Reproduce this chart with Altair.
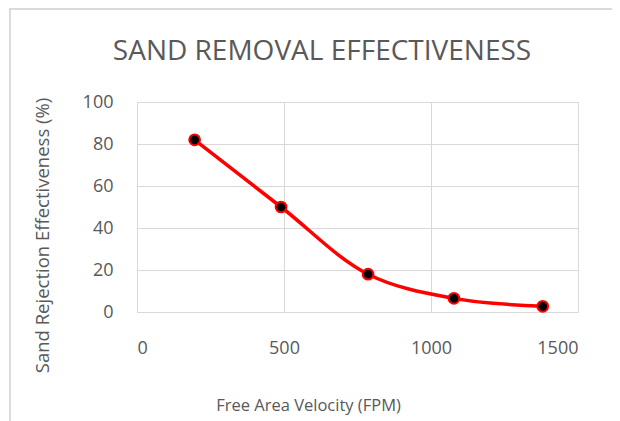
import altair as alt
import pandas as pd

velocity = [196, 490, 786, 1078, 1380]
effectiveness = [82, 50, 18, 6.5, 2.7]
x_ticks = [0, 500, 1000, 1500]
y_ticks = [0, 20, 40, 60, 80, 100]
chart_title = "SAND REMOVAL EFFECTIVENESS"

df = pd.DataFrame({"v": velocity, "e": effectiveness})
FONT = "Open Sans"
GRAY = "#595959"

x = alt.X("v:Q", scale=alt.Scale(domain=[0, 1500], nice=False),
          axis=alt.Axis(values=x_ticks, format="d", title="Free Area Velocity (FPM)", tickSize=0,
                        labelPadding=27, domain=False, titleX=171, titleY=93, titleFontSize=16.5,
                        titleBaseline="middle", titleAnchor="middle"))
y = alt.Y("e:Q", scale=alt.Scale(domain=[0, 100], nice=False),
          axis=alt.Axis(values=y_ticks, format="d", title="Sand Rejection Effectiveness (%)", tickSize=0,
                        labelPadding=24, domain=False, titleX=-95, titleY=133, titleFontSize=18.5,
                        titleAngle=-90, titleBaseline="middle", titleAnchor="middle"))

line = alt.Chart(df).mark_line(color="#ff0000", strokeWidth=3.5, interpolate="catmull-rom").encode(x=x, y=y)
pts = alt.Chart(df).mark_point(filled=True, fill="#000000", stroke="#ff0000", strokeWidth=2,
                               size=115, opacity=1, shape="circle").encode(x=x, y=y)

frame_top = alt.Chart(df).mark_rule(color="#d9d9d9", strokeWidth=1).encode(
    x=alt.value(-128), x2=alt.value(480), y=alt.value(-93))
frame_left = alt.Chart(df).mark_rule(color="#d9d9d9", strokeWidth=1).encode(
    x=alt.value(-127), y=alt.value(-93), y2=alt.value(320))
title_txt = alt.Chart(pd.DataFrame({"t": [chart_title]})).mark_text(
    font=FONT, fontSize=28, color=GRAY, align="center", baseline="alphabetic").encode(
    text="t:N", x=alt.value(185), y=alt.value(-42))

chart = alt.layer(frame_top, frame_left, line, pts, title_txt).properties(
    width=441, height=210,
    padding={"left": 129, "top": 94, "right": 34, "bottom": 110},
    autosize=alt.AutoSizeParams(type="none"),
).configure_axis(
    labelFont=FONT, labelFontSize=18, labelColor=GRAY,
    titleFont=FONT, titleColor=GRAY, titleFontWeight="normal",
    gridColor="#d9d9d9", gridWidth=1, gridOpacity=1,
).configure_view(stroke="#d9d9d9", strokeWidth=1)

chart.save("out.html", embed_options={"renderer": "svg", "actions": False})
